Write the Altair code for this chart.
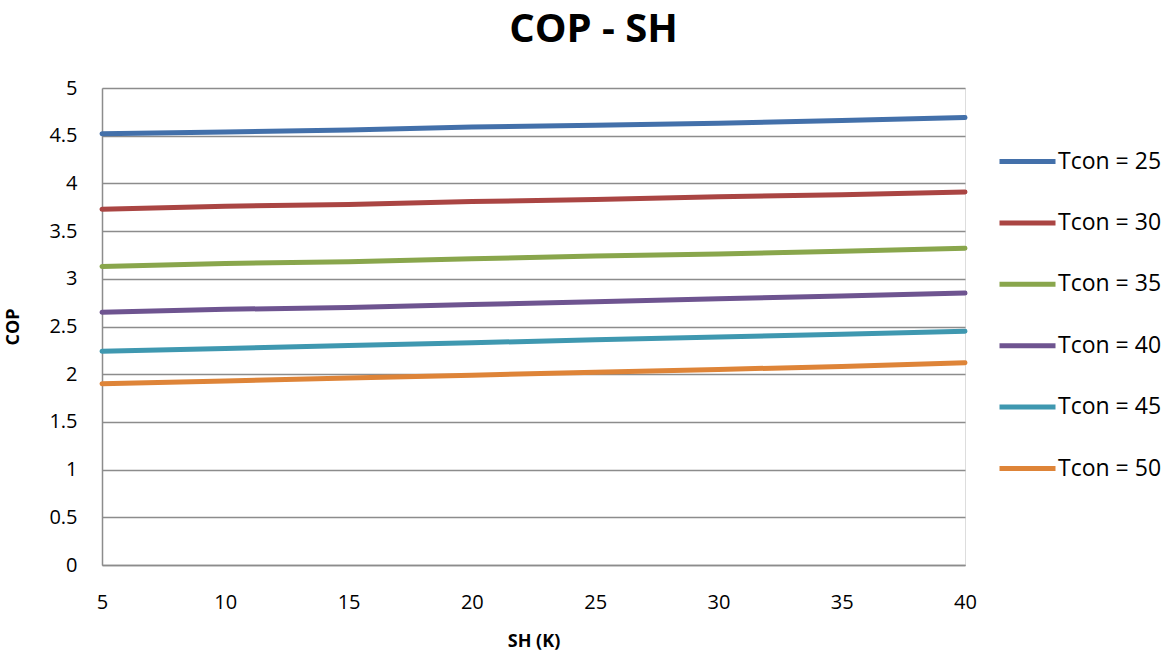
import altair as alt
import pandas as pd

# Superheat values (K)
sh = [5, 10, 15, 20, 25, 30, 35, 40]

# COP for each condensing temperature
series_names = ["Tcon = 25", "Tcon = 30", "Tcon = 35", "Tcon = 40", "Tcon = 45", "Tcon = 50"]
cop_25 = [4.52, 4.54, 4.56, 4.59, 4.61, 4.63, 4.66, 4.69]
cop_30 = [3.73, 3.76, 3.78, 3.81, 3.83, 3.86, 3.88, 3.91]
cop_35 = [3.13, 3.16, 3.18, 3.21, 3.24, 3.26, 3.29, 3.32]
cop_40 = [2.65, 2.68, 2.70, 2.73, 2.76, 2.79, 2.82, 2.85]
cop_45 = [2.24, 2.27, 2.30, 2.33, 2.36, 2.39, 2.42, 2.45]
cop_50 = [1.90, 1.93, 1.96, 1.99, 2.02, 2.05, 2.08, 2.12]
series_colors = ["#4370AA", "#AA4543", "#89A64C", "#6E5490", "#3F98B0", "#DE8438"]

x_ticks = [5, 10, 15, 20, 25, 30, 35, 40]
y_ticks = [0, 0.5, 1, 1.5, 2, 2.5, 3, 3.5, 4, 4.5, 5]

rows = []
for name, vals in zip(series_names, [cop_25, cop_30, cop_35, cop_40, cop_45, cop_50]):
    for x, y in zip(sh, vals):
        rows.append({"SH": x, "COP": y, "Serie": name})
df = pd.DataFrame(rows)

FONT = "Open Sans"
GRID = "#8C8C8C"

chart = alt.Chart(df).mark_line(strokeWidth=5, strokeCap="round").encode(
    x=alt.X(
        "SH:Q",
        scale=alt.Scale(domain=[5, 40], nice=False),
        axis=alt.Axis(
            title="SH (K)", values=x_ticks, grid=False, ticks=False, labelFlush=False,
            domainColor=GRID, domainWidth=1.5, labelFontSize=20, labelFont=FONT,
            labelColor="#000000", labelPadding=27, titleFont=FONT, titleFontSize=18,
            titleFontWeight="bold", titleColor="#000000", titlePadding=20,
        ),
    ),
    y=alt.Y(
        "COP:Q",
        scale=alt.Scale(domain=[0, 5], nice=False),
        axis=alt.Axis(
            title="COP", values=y_ticks, format="~g", grid=True, gridColor=GRID,
            gridWidth=1.5, ticks=False, domainColor=GRID, domainWidth=1.5,
            labelFontSize=20, labelFont=FONT, labelColor="#000000", labelPadding=25,
            titleFont=FONT, titleFontSize=18, titleFontWeight="bold",
            titleColor="#000000", titlePadding=26,
        ),
    ),
    color=alt.Color(
        "Serie:N",
        scale=alt.Scale(domain=series_names, range=series_colors),
        legend=alt.Legend(
            title=None, orient="none", legendX=895, legendY=43,
            symbolType="stroke", symbolSize=3136, symbolStrokeWidth=5,
            labelFontSize=23, labelFont=FONT, labelColor="#000000",
            labelOffset=0, rowPadding=18.4,
        ),
    ),
).properties(
    width=863,
    height=477,
    title=alt.TitleParams(
        "COP - SH", font=FONT, fontSize=40, fontWeight="bold", color="#000000",
        anchor="middle", dx=60, offset=28,
    ),
    autosize=alt.AutoSizeParams(type="none"),
    padding={"left": 102, "top": 88, "right": 203, "bottom": 86},
).configure_view(stroke=None).configure(background="#FFFFFF")

chart.save("out.html", embed_options={"renderer": "svg", "actions": False})
